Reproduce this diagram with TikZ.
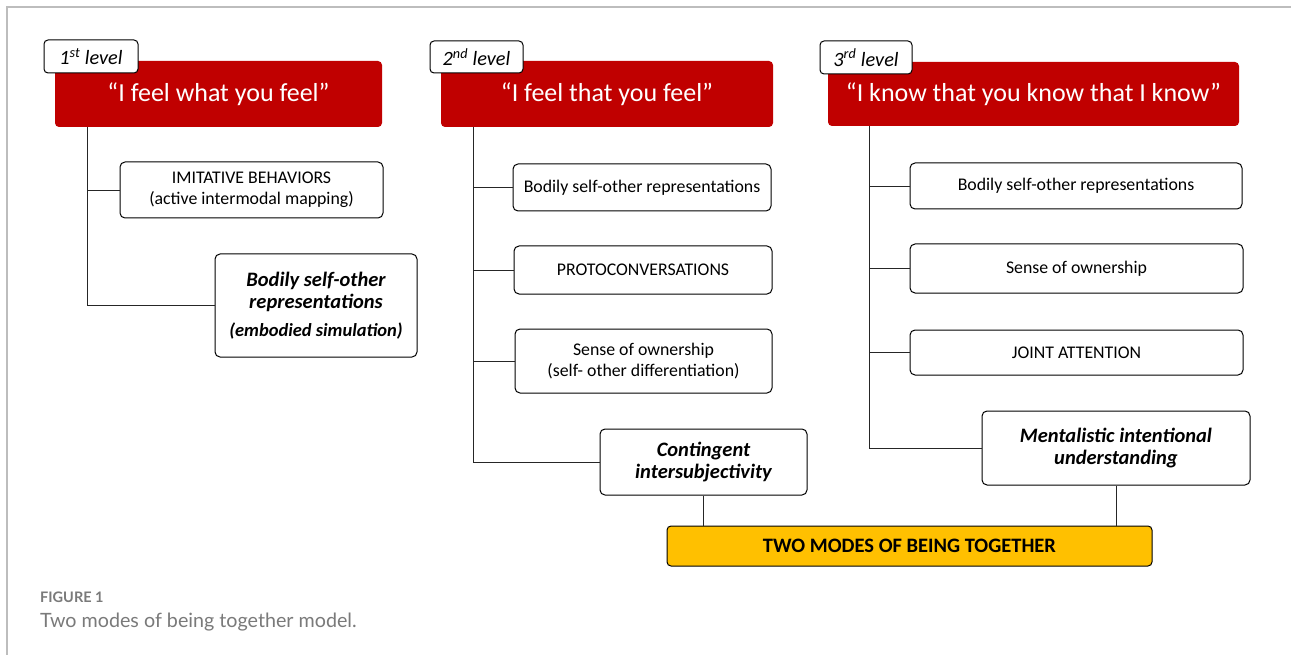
\documentclass[tikz,border=0pt]{standalone}
\usepackage{fontspec}
\setmainfont{Carlito}
\newfontfamily\capfont{Lato}
\definecolor{hdrred}{HTML}{C00000}
\definecolor{gold}{HTML}{FFC000}
\definecolor{capgray}{HTML}{7A7A7A}
\definecolor{framegray}{HTML}{BDBDBD}
\begin{document}
\begin{tikzpicture}[x=1pt,y=-1pt,
  hdr/.style={fill=hdrred, rounded corners=4pt, inner sep=0pt, text=white, font=\fontsize{26}{30}\selectfont},
  tab/.style={draw=black, fill=white, line width=1pt, rounded corners=4pt, inner sep=0pt, font=\fontsize{20.3}{24}\selectfont\itshape},
  box/.style={draw=black, fill=white, line width=1pt, rounded corners=5pt, inner sep=0pt, align=center, font=\fontsize{17.8}{21.5}\selectfont},
  bbox/.style={box, font=\fontsize{20.5}{22.5}\selectfont\bfseries\itshape},
  conn/.style={draw=black!85, line width=0.9pt},
  every node/.append style={anchor=center}]
\useasboundingbox (0,0) rectangle (1291,655);
\fill[white] (0,0) rectangle (1291,655);
\draw[framegray, line width=1.3pt] (7,655) -- (7,7) -- (1291,7);

% headers
\node[hdr, minimum width=327, minimum height=66] (h1) at (218.5,94) {“I feel what you feel”};
\node[hdr, minimum width=332, minimum height=66] (h2) at (607,94) {“I feel that you feel”};
\node[hdr, minimum width=411, minimum height=64] (h3) at (1033.5,94) {“I know that you know that I know”};

% tabs
\node[tab, minimum width=94, minimum height=33] (t1) at (91,56.5) {1\textsuperscript{st} level};
\node[tab, minimum width=93, minimum height=32] (t2) at (476.5,57) {2\textsuperscript{nd} level};
\node[tab, minimum width=92, minimum height=33] (t3) at (866,57.5) {3\textsuperscript{rd} level};

% level 1
\node[box, minimum width=263, minimum height=56] (a1) at (251.5,190) {IMITATIVE BEHAVIORS\\(active intermodal mapping)};
\node[bbox, minimum width=202, minimum height=103] (a2) at (316,305.5) {Bodily self-other\\representations\\[5pt]{\fontsize{18.5}{22}\selectfont (embodied simulation)}};

% level 2
\node[box, minimum width=258, minimum height=47] (b1) at (642,187.5) {Bodily self-other representations};
\node[box, minimum width=258, minimum height=48] (b2) at (643,270) {PROTOCONVERSATIONS};
\node[box, minimum width=257, minimum height=64] (b3) at (643.5,361) {Sense of ownership\\(self- other differentiation)};
\node[bbox, minimum width=207, minimum height=66] (b4) at (703.5,462) {Contingent\\intersubjectivity};

% level 3
\node[box, minimum width=332, minimum height=46] (c1) at (1076,186) {Bodily self-other representations};
\node[box, minimum width=333, minimum height=49] (c2) at (1076.5,268.5) {Sense of ownership};
\node[box, minimum width=333, minimum height=45] (c3) at (1076.5,352.5) {JOINT ATTENTION};
\node[bbox, minimum width=268, minimum height=74] (c4) at (1116,448) {Mentalistic intentional\\understanding};

% bottom
\node[draw=black, line width=1pt, fill=gold, rounded corners=4pt, minimum width=485, minimum height=40, inner sep=0pt, font=\fontsize{20.5}{24}\selectfont\bfseries] (tm) at (909.5,546) {TWO MODES OF BEING TOGETHER};

% connectors
\draw[conn] ([xshift=33pt]h1.south west) |- (a1.west);
\draw[conn] ([xshift=33pt]h1.south west) |- (a2.west);
\draw[conn] ([xshift=33pt]h2.south west) |- (b1.west);
\draw[conn] ([xshift=33pt]h2.south west) |- (b2.west);
\draw[conn] ([xshift=33pt]h2.south west) |- (b3.west);
\draw[conn] ([xshift=33pt]h2.south west) |- (b4.west);
\draw[conn] ([xshift=42pt]h3.south west) |- (c1.west);
\draw[conn] ([xshift=42pt]h3.south west) |- (c2.west);
\draw[conn] ([xshift=42pt]h3.south west) |- (c3.west);
\draw[conn] ([xshift=42pt]h3.south west) |- (c4.west);
\draw[conn] (b4.south) -- (b4.south |- tm.north);
\draw[conn] (c4.south) -- (c4.south |- tm.north);

% caption
\node[anchor=west, text=capgray, inner sep=0pt, font=\capfont\bfseries\fontsize{14.5}{16}\selectfont] (cap1) at (40,597) {FIGURE 1};
\node[anchor=west, text=capgray, inner sep=0pt, font=\capfont\fontsize{19.7}{22}\selectfont] (cap2) at (40,622) {Two modes of being together model.};
\end{tikzpicture}
\end{document}
